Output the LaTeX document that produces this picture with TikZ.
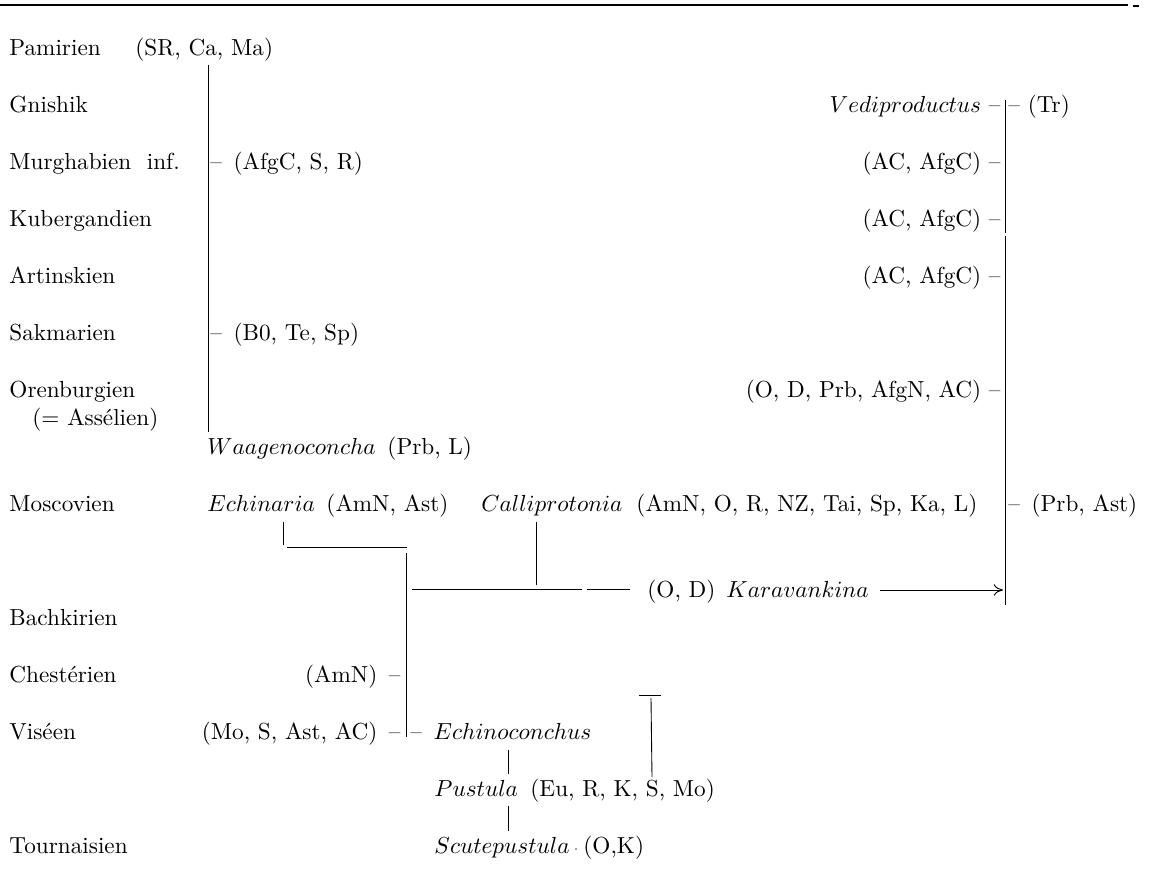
\documentclass[tikz,border=0pt]{standalone}
\usetikzlibrary{arrows.meta}
\begin{document}
\begin{tikzpicture}[x=0.431pt,y=-0.431pt,
  lbl/.style={inner sep=0pt,anchor=base west},
  rlbl/.style={inner sep=0pt,anchor=base east},
  ln/.style={line width=0.38pt}]
\useasboundingbox (0,0) rectangle (1150,890);
% top rule
\coordinate (r0) at (0,5); \coordinate (r1) at (1128,5);
\coordinate (r2) at (1133,6); \coordinate (r3) at (1139,6);
\draw[line width=1pt] (r0) -- (r1);
\draw[line width=0.5pt] (r2) -- (r3);
% stage names
\node[lbl] (pam) at (9,55) {Pamirien};
\node[lbl] (gni) at (9,112) {Gnishik};
\node[lbl] (mur) at (9,169) {Murghabien\ \ inf.};
\node[lbl] (kub) at (9,226) {Kubergandien};
\node[lbl] (art) at (9,283) {Artinskien};
\node[lbl] (sak) at (9,340) {Sakmarien};
\node[lbl] (ore) at (9,397) {Orenburgien};
\node[lbl] (ass) at (32,425) {(= Assélien)};
\node[lbl] (mos) at (9,511) {Moscovien};
\node[lbl] (bac) at (9,625) {Bachkirien};
\node[lbl] (che) at (9,682) {Chestérien};
\node[lbl] (vis) at (9,739) {Viséen};
\node[lbl] (tou) at (9,853) {Tournaisien};
% left branch
\node[lbl] (srca) at (135,55) {(SR, Ca, Ma)};
\node[lbl] (afgc) at (210,169) {--\hspace{5pt}(AfgC, S, R)};
\node[lbl] (bte) at (210,340) {--\hspace{5pt}(B0, Te, Sp)};
\node[lbl] (waag) at (207,454) {$Waagenoconcha$\hspace{0.5em}(Prb, L)};
\coordinate (v0a) at (208,65); \coordinate (v0b) at (208,432);
\draw[ln] (v0a) -- (v0b);
% Moscovien row
\node[lbl] (echi) at (207,511) {$Echinaria$\hspace{0.5em}(AmN, Ast)};
\node[lbl] (calli) at (481,511) {$Calliprotonia$\hspace{0.6em}(AmN, O, R, NZ, Tai, Sp, Ka, L)};
\node[lbl] (prb) at (1008,511) {--\hspace{5pt}(Prb, Ast)};
% right branch
\node[rlbl] (ved) at (1001,112) {$Vediproductus$~--};
\node[lbl] (tr) at (1008,112) {--~(Tr)};
\node[rlbl] (ac1) at (1001,169) {(AC, AfgC)~--};
\node[rlbl] (ac2) at (1001,226) {(AC, AfgC)~--};
\node[rlbl] (ac3) at (1001,283) {(AC, AfgC)~--};
\node[rlbl] (odp) at (1001,397) {(O, D, Prb, AfgN, AC)~--};
\coordinate (v2a) at (1005,100); \coordinate (v2b) at (1005,233);
\coordinate (v2c) at (1005,236); \coordinate (v2d) at (1005,605);
\draw[ln] (v2a) -- (v2b);
\draw[ln] (v2c) -- (v2d);
% Echinaria / Calliprotonia / Karavankina
\coordinate (e1) at (283,522); \coordinate (e2) at (283,545);
\coordinate (e3) at (287,547); \coordinate (e4) at (407,547);
\draw[ln] (e1) -- (e2);
\draw[ln] (e3) -- (e4);
\coordinate (c1) at (536,522); \coordinate (c2) at (536,585);
\draw[ln] (c1) -- (c2);
\coordinate (v1a) at (406,553); \coordinate (v1b) at (406,737);
\draw[ln] (v1a) -- (v1b);
\coordinate (k1) at (412,589); \coordinate (k2) at (582,589);
\coordinate (k3) at (587,589); \coordinate (k4) at (630,589);
\draw[ln] (k1) -- (k2);
\draw[ln] (k3) -- (k4);
\node[lbl] (od) at (647,597) {(O, D)};
\node[lbl] (kar) at (726,597) {$Karavankina$};
\coordinate (ka) at (880,590); \coordinate (kb) at (1003,590);
\draw[ln,-{To[length=4pt,width=5pt]}] (ka) -- (kb);
% lower part
\node[rlbl] (amn) at (401,682) {(AmN)\hspace{5pt}--};
\node[rlbl] (mo) at (401,739) {(Mo, S, Ast, AC)\hspace{5pt}--};
\node[lbl] (echc) at (410,739) {--\hspace{5pt}$Echinoconchus$};
\node[lbl] (pus) at (434,796) {$Pustula$};
\node[lbl] (eu) at (530,796) {(Eu, R, K, S, Mo)};
\node[lbl] (scu) at (434,853) {$Scutepustula$};
\node[lbl] (okk) at (583,853) {(O,K)};
\fill[gray] (576,849) circle[radius=1.1];
\coordinate (t1) at (508,750); \coordinate (t2) at (508,774);
\coordinate (t3) at (508,806); \coordinate (t4) at (508,831);
\draw[ln] (t1) -- (t2);
\draw[ln] (t3) -- (t4);
\coordinate (ta) at (639,695); \coordinate (tb) at (661,695);
\coordinate (tc) at (651,698); \coordinate (td) at (652,777);
\draw[ln] (ta) -- (tb);
\draw[ln] (tc) -- (td);
\end{tikzpicture}
\end{document}
